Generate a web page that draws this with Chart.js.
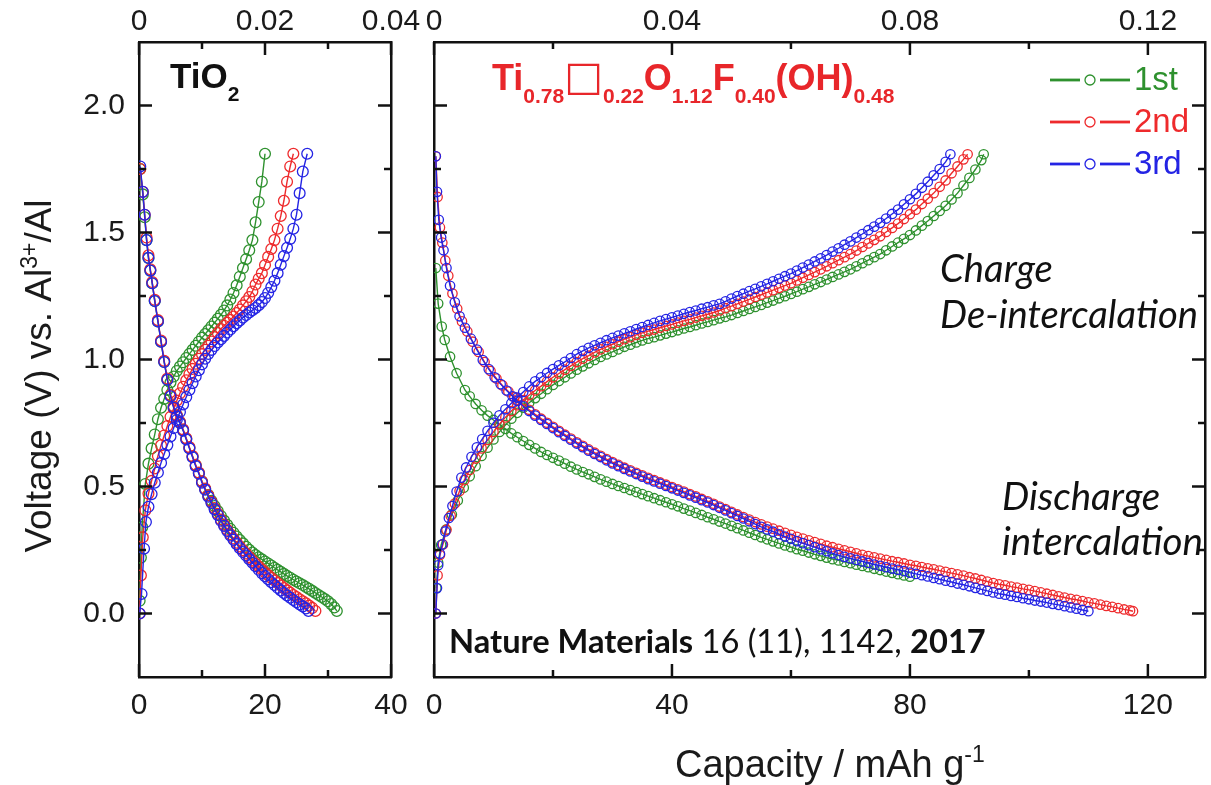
<!DOCTYPE html>
<html>
<head>
<meta charset="utf-8">
<title>Voltage profiles: TiO2 vs Ti0.78□0.22O1.12F0.40(OH)0.48</title>
<script src="https://cdn.jsdelivr.net/npm/chart.js@4.4.1/dist/chart.umd.min.js"></script>
<style>
  html, body { margin: 0; padding: 0; background: #fff; }
  #wrap { position: relative; width: 1211px; height: 785px; background: #fff; overflow: hidden; }
  #wrap canvas { position: absolute; left: 0; top: 0; }
</style>
</head>
<body>
<div id="wrap">
  <canvas id="tio2" width="1211" height="785"></canvas>
  <canvas id="tiof" width="1211" height="785"></canvas>
</div>
<script>
// ---------------- series data (capacity in mAh/g, voltage in V) ----------------
const cycleNames  = ['1st', '2nd', '3rd'];
const cycleColors = ['#2e912e', '#ee2a2c', '#2424e4'];

// Shared voltage axis
const voltTicks  = [0, 0.25, 0.5, 0.75, 1.0, 1.25, 1.5, 1.75, 2.0];
const voltLabels = ['0.0', '', '0.5', '', '1.0', '', '1.5', '', '2.0'];

// TiO2 panel axes
const tio2CapTicks  = [0, 10, 20, 30, 40];
const tio2CapLabels = ['0', '', '20', '', '40'];
const tio2TopTicks  = [0, 0.01, 0.02, 0.03, 0.04];
const tio2TopLabels = ['0', '', '0.02', '', '0.04'];

// Oxyfluoride panel axes
const tiofCapTicks  = [0, 20, 40, 60, 80, 100, 120];
const tiofCapLabels = ['0', '', '40', '', '80', '', '120'];
const tiofTopTicks  = [0, 0.02, 0.04, 0.06, 0.08, 0.10, 0.12];
const tiofTopLabels = ['0', '', '0.04', '', '0.08', '', '0.12'];

// ---- TiO2: discharge ----
const tio2Dis1Cap = [0.2,0.6,0.9,1.2,1.5,1.8,2.1,
  2.5,3.0,3.5,4.0,4.5,5.0,5.5,6.0,6.5,7.0,
  7.5,8.0,8.5,9.0,9.5,10.0,10.5,11.0,11.5,12.0,
  12.5,13.0,13.5,14.0,14.5,15.0,15.5,16.0,16.5,17.0,
  17.5,18.0,18.5,19.0,19.5,20.0,20.5,21.0,21.5,22.0,
  22.5,23.0,23.5,24.0,24.5,25.0,25.5,26.0,26.5,27.0,
  27.5,28.0,28.5,29.0,29.5,30.0,30.5,31.0,31.4];
const tio2Dis1V = [1.75,1.65,1.56,1.47,1.40,1.35,1.30,
  1.23,1.15,1.07,0.99,0.92,0.86,0.815,0.78,0.752,0.722,
  0.688,0.653,0.618,0.584,0.553,0.52,0.49,0.466,0.444,0.423,
  0.403,0.384,0.366,0.349,0.333,0.318,0.303,0.289,0.276,0.263,
  0.251,0.240,0.230,0.221,0.213,0.205,0.197,0.189,0.180,0.172,
  0.164,0.156,0.148,0.141,0.133,0.126,0.119,0.112,0.104,0.097,
  0.089,0.081,0.073,0.065,0.057,0.048,0.037,0.024,0.010];

const tio2Dis2Cap = [0.2,0.6,0.9,1.2,1.5,1.8,2.1,
  2.5,3.0,3.5,4.0,4.5,5.0,5.5,6.0,6.5,7.0,
  7.5,8.0,8.5,9.0,9.5,10.0,10.5,11.0,11.5,12.0,
  12.5,13.0,13.5,14.0,14.5,15.0,15.5,16.0,16.5,17.0,
  17.5,18.0,18.5,19.0,19.5,20.0,20.5,21.0,21.5,22.0,
  22.5,23.0,23.5,24.0,24.5,25.0,25.5,26.0,26.5,27.0,
  27.5,28.0];
const tio2Dis2V = [1.75,1.66,1.57,1.48,1.41,1.355,1.305,
  1.235,1.155,1.075,0.995,0.925,0.86,0.815,0.78,0.755,0.725,
  0.69,0.655,0.62,0.585,0.555,0.52,0.492,0.465,0.44,0.415,
  0.393,0.37,0.35,0.33,0.312,0.295,0.279,0.264,0.249,0.236,
  0.222,0.209,0.197,0.185,0.173,0.162,0.151,0.140,0.130,0.120,
  0.110,0.100,0.091,0.082,0.073,0.065,0.056,0.048,0.040,0.031,
  0.022,0.010];

const tio2Dis3Cap = [0.2,0.6,0.9,1.2,1.5,1.8,2.1,
  2.5,3.0,3.5,4.0,4.5,5.0,5.5,6.0,6.5,7.0,
  7.5,8.0,8.5,9.0,9.5,10.0,10.5,11.0,11.5,12.0,
  12.5,13.0,13.5,14.0,14.5,15.0,15.5,16.0,16.5,17.0,
  17.5,18.0,18.5,19.0,19.5,20.0,20.5,21.0,21.5,22.0,
  22.5,23.0,23.5,24.0,24.5,25.0,25.5,26.0,26.5,26.9];
const tio2Dis3V = [1.76,1.66,1.57,1.47,1.40,1.35,1.30,
  1.23,1.15,1.07,0.99,0.92,0.855,0.81,0.775,0.75,0.72,
  0.685,0.65,0.615,0.58,0.55,0.515,0.487,0.46,0.435,0.41,
  0.388,0.365,0.345,0.325,0.307,0.29,0.273,0.257,0.242,0.228,
  0.214,0.200,0.186,0.172,0.159,0.147,0.135,0.123,0.112,0.101,
  0.091,0.081,0.071,0.062,0.053,0.044,0.036,0.028,0.020,0.010];

// ---- TiO2: charge ----
const tio2Chg1Cap = [0.1,0.3,0.5,
  1.0,1.5,2.0,2.5,3.0,3.5,4.0,4.5,5.0,5.5,
  6.0,6.5,7.0,7.5,8.0,8.5,9.0,9.5,10.0,10.5,
  11.0,11.5,12.0,12.5,13.0,13.5,14.0,14.5,15.0,15.5,
  16.0,16.5,17.0,17.5,18.0,18.5,19.0,19.5,20.0];
const tio2Chg1V = [0.05,0.22,0.34,
  0.51,0.59,0.65,0.705,0.765,0.81,0.845,0.88,0.91,0.933,
  0.955,0.972,0.989,1.006,1.022,1.038,1.054,1.07,1.086,1.10,
  1.115,1.13,1.145,1.16,1.176,1.193,1.213,1.236,1.262,1.292,
  1.326,1.36,1.395,1.43,1.47,1.54,1.62,1.70,1.81];

const tio2Chg2Cap = [0.1,0.3,0.6,
  1.0,1.5,2.0,2.5,3.0,3.5,4.0,4.5,5.0,5.5,
  6.0,6.5,7.0,7.5,8.0,8.5,9.0,9.5,10.0,10.5,
  11.0,11.5,12.0,12.5,13.0,13.5,14.0,14.5,15.0,15.5,
  16.0,16.5,17.0,17.5,18.0,18.5,19.0,19.5,20.0,20.5,
  21.0,21.5,22.0,22.5,23.0,23.5,24.0,24.5];
const tio2Chg2V = [0.00,0.15,0.30,
  0.406,0.472,0.522,0.571,0.62,0.662,0.701,0.738,0.774,0.807,
  0.838,0.867,0.893,0.918,0.942,0.963,0.983,1.003,1.021,1.038,
  1.054,1.071,1.088,1.104,1.12,1.133,1.145,1.156,1.169,1.183,
  1.197,1.213,1.229,1.246,1.268,1.295,1.318,1.34,1.372,1.404,
  1.435,1.47,1.515,1.565,1.625,1.70,1.76,1.81];

const tio2Chg3Cap = [0.1,0.4,0.8,1.1,
  1.5,2.0,2.5,3.0,3.5,4.0,4.5,5.0,5.5,6.0,
  6.5,7.0,7.5,8.0,8.5,9.0,9.5,10.0,10.5,11.0,
  11.5,12.0,12.5,13.0,13.5,14.0,14.5,15.0,15.5,16.0,
  16.5,17.0,17.5,18.0,18.5,19.0,19.5,20.0,20.5,21.0,
  21.5,22.0,22.5,23.0,23.5,24.0,24.5,25.0,25.5,26.0,26.7];
const tio2Chg3V = [0.00,0.077,0.255,0.36,
  0.42,0.47,0.515,0.555,0.593,0.628,0.663,0.697,0.73,0.762,
  0.793,0.823,0.852,0.88,0.907,0.933,0.958,0.981,1.003,1.022,
  1.038,1.053,1.067,1.08,1.093,1.106,1.118,1.131,1.143,1.154,
  1.165,1.175,1.185,1.194,1.203,1.214,1.226,1.242,1.262,1.285,
  1.31,1.34,1.373,1.407,1.44,1.475,1.515,1.57,1.655,1.74,1.81];

// ---- Oxyfluoride: discharge ----
const tiofDis1Cap = [0.3,0.7,1.3,1.8,2.7,3.8,5.2,
  6,7,8,9,10,11,12,13,14,15,
  16,17,18,19,20,21,22,23,24,25,
  26,27,28,29,30,31,32,33,34,35,
  36,37,38,39,40,41,42,43,44,45,
  46,47,48,49,50,51,52,53,54,55,
  56,57,58,59,60,61,62,63,64,65,
  66,67,68,69,70,71,72,73,74,75,
  76,77,78,79,80];
const tiofDis1V = [1.36,1.22,1.13,1.077,1.011,0.946,0.88,
  0.855,0.825,0.800,0.779,0.762,0.744,0.727,0.709,0.694,0.679,
  0.664,0.650,0.636,0.624,0.613,0.602,0.590,0.578,0.567,0.557,
  0.548,0.538,0.528,0.519,0.510,0.502,0.494,0.486,0.478,0.470,
  0.462,0.454,0.446,0.438,0.430,0.422,0.413,0.405,0.396,0.388,
  0.379,0.371,0.362,0.354,0.345,0.336,0.327,0.318,0.309,0.300,
  0.292,0.284,0.276,0.268,0.261,0.253,0.247,0.240,0.233,0.227,
  0.220,0.214,0.209,0.203,0.198,0.192,0.187,0.182,0.176,0.171,
  0.165,0.160,0.155,0.150,0.145];

const tiofDis2Cap = [0.3,0.6,1.0,1.4,1.9,2.4,3.1,3.9,4.7,5.6,6.5,7.5,8.5,9.5,10.5,11.5,12.5,13.5,
  14,15,16,17,18,19,20,21,22,23,
  24,25,26,27,28,29,30,31,32,33,
  34,35,36,37,38,39,40,41,42,43,
  44,45,46,47,48,49,50,51,52,53,
  54,55,56,57,58,59,60,61,62,63,
  64,65,66,67,68,69,70,71,72,73,
  74,75,76,77,78,79,80,81,82,83,
  84,85,86,87,88,89,90,91,92,93,
  94,95,96,97,98,99,100,101,102,103,
  104,105,106,107,108,109,110,111,112,113,
  114,115,116,117,117.5];
const tiofDis2V = [1.80,1.64,1.52,1.46,1.39,1.33,1.26,1.20,1.15,1.11,1.07,1.03,0.99,0.955,0.925,0.898,0.874,0.852,
  0.842,0.821,0.802,0.784,0.767,0.751,0.735,0.719,0.704,0.689,
  0.674,0.660,0.646,0.633,0.621,0.608,0.596,0.585,0.574,0.564,
  0.554,0.544,0.534,0.525,0.516,0.507,0.498,0.489,0.480,0.470,
  0.461,0.451,0.442,0.432,0.421,0.411,0.400,0.390,0.380,0.370,
  0.360,0.351,0.342,0.334,0.326,0.318,0.310,0.302,0.295,0.288,
  0.281,0.274,0.267,0.261,0.255,0.249,0.243,0.237,0.231,0.226,
  0.221,0.216,0.211,0.206,0.202,0.197,0.192,0.188,0.183,0.178,
  0.174,0.169,0.164,0.159,0.154,0.149,0.143,0.138,0.132,0.126,
  0.120,0.115,0.111,0.106,0.102,0.097,0.093,0.088,0.083,0.078,
  0.073,0.068,0.063,0.058,0.054,0.049,0.044,0.040,0.035,0.030,
  0.026,0.021,0.016,0.012,0.009];

const tiofDis3Cap = [0.3,0.5,0.8,1.2,1.6,2.1,2.7,3.5,4.3,5.2,6.2,7.2,8.2,9.2,10.2,11.2,12.2,13.2,
  14,15,16,17,18,19,20,21,22,23,
  24,25,26,27,28,29,30,31,32,33,
  34,35,36,37,38,39,40,41,42,43,
  44,45,46,47,48,49,50,51,52,53,
  54,55,56,57,58,59,60,61,62,63,
  64,65,66,67,68,69,70,71,72,73,
  74,75,76,77,78,79,80,81,82,83,
  84,85,86,87,88,89,90,91,92,93,
  94,95,96,97,98,99,100,101,102,103,
  104,105,106,107,108,109,110];
const tiofDis3V = [1.80,1.66,1.55,1.48,1.43,1.36,1.29,1.225,1.17,1.125,1.082,1.039,0.998,0.962,0.930,0.903,0.878,0.855,
  0.837,0.816,0.797,0.779,0.762,0.746,0.730,0.714,0.699,0.684,
  0.669,0.655,0.641,0.628,0.616,0.603,0.591,0.580,0.569,0.559,
  0.549,0.539,0.529,0.520,0.511,0.502,0.493,0.484,0.475,0.465,
  0.456,0.446,0.437,0.427,0.416,0.406,0.395,0.384,0.374,0.363,
  0.352,0.341,0.331,0.322,0.312,0.303,0.294,0.285,0.277,0.269,
  0.261,0.253,0.245,0.237,0.230,0.223,0.217,0.211,0.205,0.199,
  0.193,0.188,0.182,0.177,0.172,0.167,0.161,0.156,0.151,0.146,
  0.140,0.135,0.129,0.124,0.118,0.113,0.107,0.101,0.095,0.089,
  0.083,0.078,0.074,0.069,0.065,0.060,0.056,0.051,0.047,0.043,
  0.038,0.034,0.029,0.024,0.019,0.014,0.009];

// ---- Oxyfluoride: charge ----
const tiofChg1Cap = [0.4,0.7,1.2,
  2,3,4,5,6,7,8,9,10,11,
  12,13,14,15,16,17,18,19,20,21,
  22,23,24,25,26,27,28,29,30,31,
  32,33,34,35,36,37,38,39,40,41,
  42,43,44,45,46,47,48,49,50,51,
  52,53,54,55,56,57,58,59,60,61,
  62,63,64,65,66,67,68,69,70,71,
  72,73,74,75,76,77,78,79,80,81,
  82,83,84,85,86,87,88,89,90,91,
  92,92.4];
const tiofChg1V = [0.10,0.20,0.27,
  0.33,0.39,0.445,0.495,0.54,0.58,0.62,0.653,0.685,0.715,
  0.742,0.767,0.79,0.81,0.83,0.848,0.865,0.883,0.90,0.915,
  0.93,0.945,0.96,0.973,0.985,0.998,1.01,1.02,1.03,1.04,
  1.05,1.058,1.067,1.075,1.082,1.088,1.095,1.102,1.108,1.115,
  1.122,1.128,1.135,1.142,1.148,1.155,1.162,1.168,1.175,1.183,
  1.191,1.199,1.207,1.215,1.224,1.232,1.241,1.249,1.258,1.267,
  1.277,1.286,1.296,1.305,1.315,1.325,1.335,1.345,1.355,1.367,
  1.379,1.391,1.403,1.415,1.43,1.445,1.46,1.475,1.49,1.508,
  1.527,1.545,1.565,1.585,1.605,1.63,1.655,1.685,1.715,1.748,
  1.785,1.808];

const tiofChg2Cap = [0.3,0.6,1.0,1.5,2.1,2.8,3.5,4.3,5.1,6,7,8,9,10,
  11,12,13,14,15,16,17,18,19,20,
  21,22,23,24,25,26,27,28,29,30,
  31,32,33,34,35,36,37,38,39,40,
  41,42,43,44,45,46,47,48,49,50,
  51,52,53,54,55,56,57,58,59,60,
  61,62,63,64,65,66,67,68,69,70,
  71,72,73,74,75,76,77,78,79,80,
  81,82,83,84,85,86,87,88,89,89.7];
const tiofChg2V = [0.00,0.15,0.23,0.272,0.33,0.385,0.433,0.482,0.525,0.565,0.61,0.65,0.683,0.715,
  0.745,0.772,0.797,0.82,0.84,0.86,0.878,0.895,0.913,0.93,
  0.945,0.96,0.975,0.99,1.003,1.015,1.028,1.04,1.05,1.06,
  1.07,1.08,1.088,1.097,1.105,1.112,1.118,1.125,1.132,1.138,
  1.145,1.152,1.158,1.165,1.172,1.178,1.185,1.193,1.202,1.21,
  1.219,1.228,1.237,1.246,1.255,1.264,1.273,1.282,1.291,1.30,
  1.311,1.322,1.333,1.344,1.355,1.367,1.379,1.391,1.403,1.415,
  1.429,1.443,1.457,1.471,1.485,1.502,1.518,1.535,1.553,1.572,
  1.59,1.612,1.633,1.655,1.68,1.705,1.733,1.76,1.788,1.808];

const tiofChg3Cap = [0.3,0.5,0.7,1.0,1.4,1.9,2.5,3.1,3.8,4.6,5.4,6.3,7.2,8.1,9.0,10,
  11,12,13,14,15,16,17,18,19,20,
  21,22,23,24,25,26,27,28,29,30,
  31,32,33,34,35,36,37,38,39,40,
  41,42,43,44,45,46,47,48,49,50,
  51,52,53,54,55,56,57,58,59,60,
  61,62,63,64,65,66,67,68,69,70,
  71,72,73,74,75,76,77,78,79,80,
  81,82,83,84,85,86,86.8];
const tiofChg3V = [0.00,0.10,0.19,0.235,0.272,0.323,0.376,0.423,0.48,0.535,0.575,0.617,0.654,0.687,0.719,0.751,
  0.780,0.804,0.828,0.850,0.872,0.894,0.914,0.930,0.947,0.962,
  0.977,0.991,1.006,1.021,1.034,1.046,1.056,1.066,1.076,1.085,
  1.094,1.103,1.111,1.120,1.128,1.136,1.144,1.152,1.159,1.166,
  1.173,1.180,1.187,1.193,1.200,1.206,1.213,1.219,1.229,1.240,
  1.250,1.259,1.269,1.278,1.288,1.298,1.308,1.318,1.328,1.338,
  1.350,1.362,1.374,1.386,1.398,1.411,1.425,1.438,1.452,1.465,
  1.480,1.494,1.509,1.523,1.538,1.555,1.573,1.590,1.611,1.631,
  1.652,1.676,1.700,1.725,1.750,1.778,1.808];

// ---------------- drawing helpers ----------------
const SANS  = "'Liberation Sans', Arial, Helvetica, sans-serif";
const HUMAN = "Lato, 'Open Sans', 'Noto Sans', sans-serif";
Chart.defaults.font.family = SANS;
Chart.defaults.color = '#1a1a1a';

function curve(label, caps, volts, color, order, radius) {
  return {
    label,
    data: caps.map((c, i) => ({ x: c, y: volts[i] })),
    showLine: true,
    borderColor: color,
    borderWidth: 1.4,
    pointRadius: radius,
    pointHoverRadius: radius,
    pointBorderWidth: 1.3,
    pointBorderColor: color,
    pointBackgroundColor: 'rgba(255,255,255,0)',
    tension: 0,
    order
  };
}

function axis(position, min, max, tickVals, tickLabels, showLabels, size, padding) {
  const horizontal = position === 'top' || position === 'bottom';
  return {
    type: 'linear',
    position,
    axis: horizontal ? 'x' : 'y',
    min, max,
    grid: { display: false, drawTicks: false, drawOnChartArea: false },
    border: { display: true, color: '#111', width: 2.5 },
    afterBuildTicks: s => { s.ticks = tickVals.map((v, i) => ({ value: v, isMajor: tickLabels[i] !== '' })); },
    afterFit: s => { if (horizontal) s.height = size; else s.width = size; },
    ticks: {
      display: showLabels,
      autoSkip: false, maxRotation: 0, minRotation: 0,
      padding,
      font: { family: SANS, size: 30 },
      color: '#1a1a1a',
      callback: (v, i) => tickLabels[i]
    }
  };
}

// ticks pointing into the plot on every side
const inwardTicks = {
  id: 'inwardTicks',
  afterDraw(chart) {
    const { ctx, chartArea: a } = chart;
    ctx.save();
    ctx.strokeStyle = '#111';
    ctx.lineWidth = 2.5;
    for (const s of Object.values(chart.scales)) {
      for (const t of s.ticks) {
        const len = t.isMajor ? 13 : 7;
        const p = s.getPixelForValue(t.value);
        ctx.beginPath();
        if (s.position === 'bottom') { ctx.moveTo(p, a.bottom); ctx.lineTo(p, a.bottom - len); }
        else if (s.position === 'top') { ctx.moveTo(p, a.top); ctx.lineTo(p, a.top + len); }
        else if (s.position === 'left') { ctx.moveTo(a.left, p); ctx.lineTo(a.left + len, p); }
        else { ctx.moveTo(a.right, p); ctx.lineTo(a.right - len, p); }
        ctx.stroke();
      }
    }
    ctx.restore();
  }
};

// draw a run of differently styled text pieces on one baseline
function drawRuns(ctx, x, y, runs, color) {
  ctx.textBaseline = 'alphabetic';
  ctx.textAlign = 'left';
  for (const [text, font, dy, col] of runs) {
    ctx.font = font;
    ctx.fillStyle = col || color;
    ctx.fillText(text, x, y + (dy || 0));
    x += ctx.measureText(text).width;
  }
  return x;
}
function runsWidth(ctx, runs) {
  let w = 0;
  for (const [text, font] of runs) { ctx.font = font; w += ctx.measureText(text).width; }
  return w;
}
// font size (px) that makes a run list span the given width
function fitSize(ctx, makeRuns, width) {
  return 100 * width / runsWidth(ctx, makeRuns(100));
}

// ---------------- TiO2 panel ----------------
const tio2Labels = {
  id: 'tio2Labels',
  afterDraw(chart) {
    const ctx = chart.ctx;
    ctx.save();
    drawRuns(ctx, 170, 88, [
      ['TiO', `bold 35px ${SANS}`, 0],
      ['2', `bold 21px ${SANS}`, 13]
    ], '#111');

    // vertical axis title
    const titleRuns = [
      ['Voltage (V) vs. Al', `37px ${SANS}`, 0],
      ['3+', `23px ${SANS}`, -14],
      ['/Al', `37px ${SANS}`, 0]
    ];
    ctx.translate(51, 376);
    ctx.rotate(-Math.PI / 2);
    const w = runsWidth(ctx, titleRuns);
    drawRuns(ctx, -w / 2, 0, titleRuns, '#1a1a1a');
    ctx.restore();
  }
};

new Chart(document.getElementById('tio2'), {
  type: 'scatter',
  data: {
    datasets: [
      curve(cycleNames[2], tio2Dis3Cap, tio2Dis3V, cycleColors[2], 0, 5.4),
      curve(cycleNames[2], tio2Chg3Cap, tio2Chg3V, cycleColors[2], 0, 5.4),
      curve(cycleNames[1], tio2Dis2Cap, tio2Dis2V, cycleColors[1], 1, 5.4),
      curve(cycleNames[1], tio2Chg2Cap, tio2Chg2V, cycleColors[1], 1, 5.4),
      curve(cycleNames[0], tio2Dis1Cap, tio2Dis1V, cycleColors[0], 2, 5.4),
      curve(cycleNames[0], tio2Chg1Cap, tio2Chg1V, cycleColors[0], 2, 5.4)
    ]
  },
  options: {
    responsive: false, animation: false, devicePixelRatio: 1,
    layout: { padding: 0 },
    events: [],
    plugins: { legend: { display: false }, tooltip: { enabled: false } },
    scales: {
      x:  axis('bottom', 0, 40, tio2CapTicks, tio2CapLabels, true, 108, 11),
      x2: axis('top', 0, 0.04, tio2TopTicks, tio2TopLabels, true, 42, 2),
      y:  axis('left', -0.25, 2.25, voltTicks, voltLabels, true, 139, 14),
      y2: axis('right', -0.25, 2.25, voltTicks, voltLabels, false, 820, 0)
    }
  },
  plugins: [inwardTicks, tio2Labels]
});

// ---------------- oxyfluoride panel ----------------
const tiofLabels = {
  id: 'tiofLabels',
  afterDraw(chart) {
    const ctx = chart.ctx;
    const red = '#e8262a';
    ctx.save();

    // composition label
    const big = `bold 36px ${SANS}`, sub = `bold 21px ${SANS}`;
    drawRuns(ctx, 492, 90, [
      ['Ti', big, 0], ['0.78', sub, 13],
      ['\u25A1', `41px 'DejaVu Sans'`, 0], ['0.22', sub, 13],
      ['O', big, 0], ['1.12', sub, 13],
      ['F', big, 0], ['0.40', sub, 13],
      ['(OH)', big, 0], ['0.48', sub, 13]
    ], red);

    // legend
    const rows = [80, 122, 164];
    cycleNames.forEach((name, i) => {
      const y = rows[i], c = cycleColors[i];
      ctx.strokeStyle = c;
      ctx.lineWidth = 2.8;
      ctx.beginPath(); ctx.moveTo(1050, y); ctx.lineTo(1080, y); ctx.stroke();
      ctx.beginPath(); ctx.moveTo(1100, y); ctx.lineTo(1130, y); ctx.stroke();
      ctx.lineWidth = 1.3;
      ctx.beginPath(); ctx.arc(1090, y, 5, 0, Math.PI * 2); ctx.stroke();
      ctx.font = `33px ${SANS}`;
      ctx.fillStyle = c;
      ctx.textBaseline = 'middle';
      ctx.fillText(name, 1134, y + 1);
    });

    // process notes
    const it = s => `italic ${s}px ${HUMAN}`;
    const s1 = fitSize(ctx, s => [['De-intercalation', it(s)]], 258);
    drawRuns(ctx, 940, 282, [['Charge', it(s1)]], '#111');
    drawRuns(ctx, 940, 328, [['De-intercalation', it(s1)]], '#111');
    const s2 = fitSize(ctx, s => [['intercalation', it(s)]], 201);
    drawRuns(ctx, 1002, 510, [['Discharge', it(s2)]], '#111');
    drawRuns(ctx, 1002, 555, [['intercalation', it(s2)]], '#111');

    // reference
    const refRuns = s => [
      ['Nature Materials', `bold ${s}px ${HUMAN}`],
      [' 16 (11), 1142, ', `${s}px ${HUMAN}`],
      ['2017', `bold ${s}px ${HUMAN}`]
    ];
    const s3 = fitSize(ctx, refRuns, 537);
    drawRuns(ctx, 449, 653, refRuns(s3), '#111');

    // horizontal axis title
    drawRuns(ctx, 675, 777, [
      ['Capacity / mAh g', `38px ${SANS}`, 0],
      ['-1', `23px ${SANS}`, -15]
    ], '#1a1a1a');
    ctx.restore();
  }
};

new Chart(document.getElementById('tiof'), {
  type: 'scatter',
  data: {
    datasets: [
      curve(cycleNames[2], tiofDis3Cap, tiofDis3V, cycleColors[2], 0, 4.7),
      curve(cycleNames[2], tiofChg3Cap, tiofChg3V, cycleColors[2], 0, 4.7),
      curve(cycleNames[1], tiofDis2Cap, tiofDis2V, cycleColors[1], 1, 4.7),
      curve(cycleNames[1], tiofChg2Cap, tiofChg2V, cycleColors[1], 1, 4.7),
      curve(cycleNames[0], tiofDis1Cap, tiofDis1V, cycleColors[0], 2, 4.7),
      curve(cycleNames[0], tiofChg1Cap, tiofChg1V, cycleColors[0], 2, 4.7)
    ]
  },
  options: {
    responsive: false, animation: false, devicePixelRatio: 1,
    layout: { padding: 0 },
    events: [],
    plugins: { legend: { display: false }, tooltip: { enabled: false } },
    scales: {
      x:  axis('bottom', 0, 129.6, tiofCapTicks, tiofCapLabels, true, 108, 11),
      x2: axis('top', 0, 0.1296, tiofTopTicks, tiofTopLabels, true, 42, 2),
      y:  axis('left', -0.25, 2.25, voltTicks, voltLabels, false, 434, 0),
      y2: axis('right', -0.25, 2.25, voltTicks, voltLabels, false, 2, 0)
    }
  },
  plugins: [inwardTicks, tiofLabels]
});
</script>
</body>
</html>
